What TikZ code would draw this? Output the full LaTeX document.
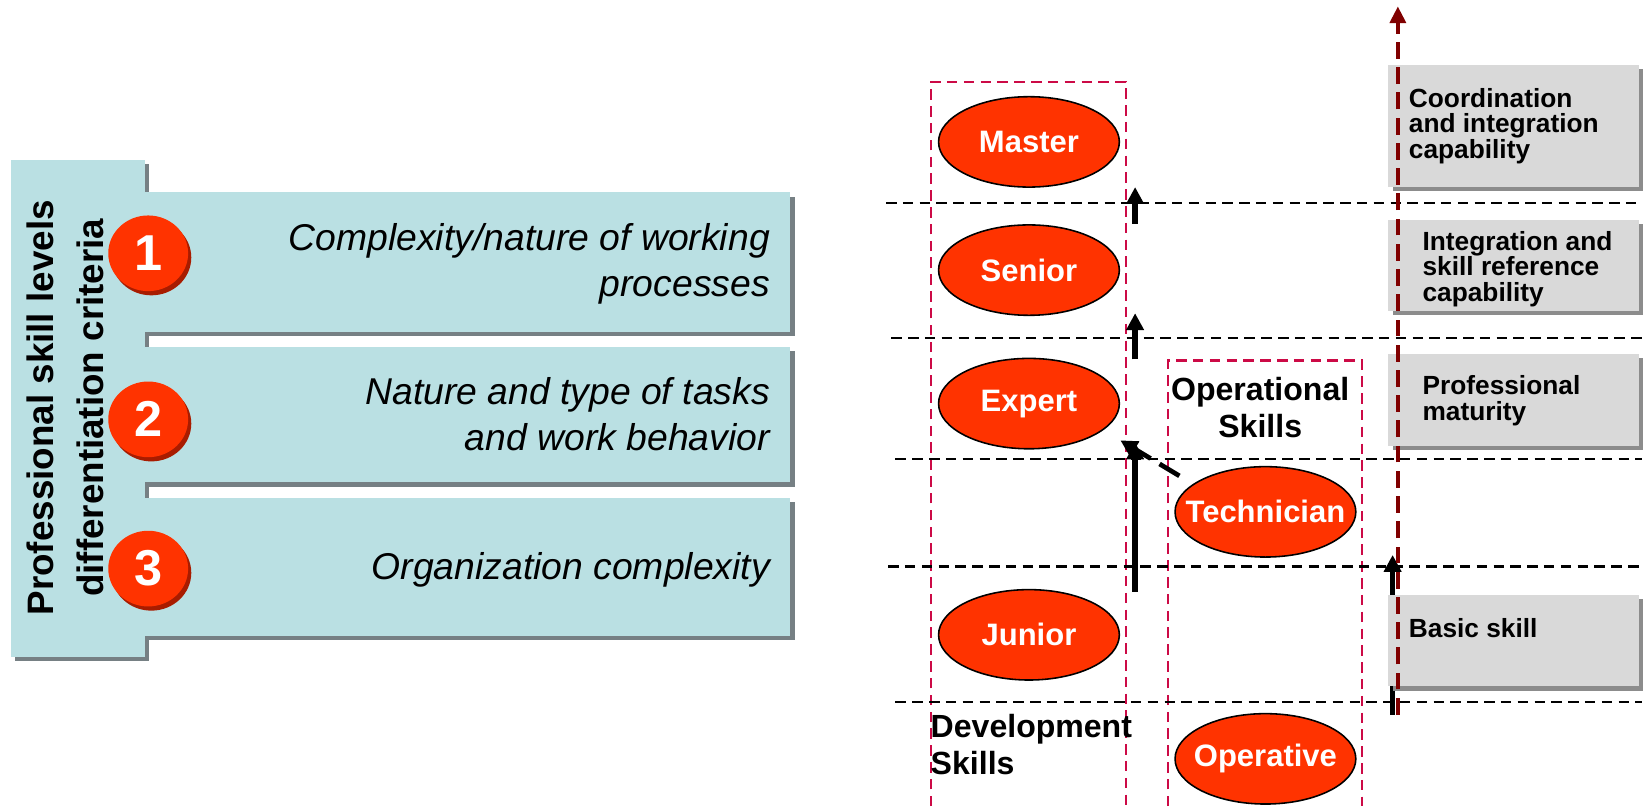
\documentclass[tikz,border=0pt]{standalone}
\usepackage{fontspec}
\setmainfont{Liberation Sans}
\usetikzlibrary{arrows.meta,shapes.geometric}

\definecolor{critblue}{RGB}{186,224,227}
\definecolor{critshade}{RGB}{118,128,132}
\definecolor{levelred}{RGB}{255,51,0}
\definecolor{leveldark}{RGB}{168,28,0}
\definecolor{boxpink}{RGB}{204,10,70}
\definecolor{axisred}{RGB}{128,0,0}
\definecolor{capgray}{RGB}{217,217,217}
\definecolor{capshade}{RGB}{140,140,140}

\begin{document}
\begin{tikzpicture}[x=1pt,y=-1pt,
    level/.style={ellipse,draw=black,line width=1.5pt,fill=levelred,minimum width=172pt,minimum height=86pt,inner xsep=-20pt,inner ysep=0pt,text=white,font=\fontsize{29.5}{34}\selectfont\bfseries},
    crittext/.style={anchor=east,align=right,font=\fontsize{35.5}{44}\selectfont\itshape},
    skilltext/.style={font=\fontsize{30.5}{35}\selectfont\bfseries},
    captext/.style={anchor=west,align=left,font=\fontsize{25}{24.5}\selectfont\bfseries},
    bandline/.style={line width=2pt,dash pattern=on 10pt off 6pt},
    pinkline/.style={draw=boxpink,line width=2pt,dash pattern=on 10pt off 6pt},
    uparrow/.style={line width=5pt,-{Triangle[length=16pt,width=16pt]}}]

\useasboundingbox (0,0) rectangle (1568,767);

% criteria column
\fill[critshade] (14,156) rectangle (142,629);
\fill[critblue] (10,152) rectangle (138,625);
\node[rotate=90,align=center,font=\fontsize{35}{48}\selectfont\bfseries] (crittitle) at (62,388) {Professional skill levels\\differentiation criteria};

\foreach \t/\b in {183/316,330/459,474/605}{
    \fill[critshade] (142,\t+4) rectangle (756,\b+4);
    \fill[critblue] (138,\t) rectangle (752,\b);
}

\foreach \n/\y in {1/241,2/399,3/541}{
    \fill[leveldark] (144,\y+4) ellipse [x radius=38, y radius=36];
    \fill[levelred] (141,\y) ellipse [x radius=38, y radius=36];
    \node[text=white,font=\fontsize{48}{48}\selectfont\bfseries] (num\n) at (141,\y) {\n};
}

\node[crittext] (crit1) at (736,251) {Complexity/nature of working\\processes};
\node[crittext] (crit2) at (736,394) {Nature and type of tasks\\and work behavior};
\node[crittext] (crit3) at (736,542) {Organization complexity};

% skill columns and bands
\draw[pinkline] (886,767) -- (886,78) -- (1071,78) -- (1071,767);
\draw[pinkline] (1111,767) -- (1111,343) -- (1296,343) -- (1296,767);

\foreach \y/\a in {193/843,322/848,437/852,539/845,668/852}
    \draw[bandline] (\a,\y) -- (1562,\y);

\node[level] (master) at (979,135) {Master};
\node[level] (senior) at (979,257) {Senior};
\node[level] (expert) at (979,384) {Expert};
\node[level] (junior) at (979,604) {Junior};
\node[level] (technician) at (1204,487) {Technician};
\node[level] (operative) at (1204,722) {Operative};

\node[skilltext,anchor=north west,align=left] (devlab) at (882,676) {Development\\Skills};
\node[skilltext,align=center] (oplab) at (1199,388) {Operational\\Skills};

% steps between levels
\coordinate (step1a) at (1080,213);
\coordinate (step1b) at (1080,178);
\coordinate (step2a) at (1080,342);
\coordinate (step2b) at (1080,298);
\coordinate (step3a) at (1080,563);
\coordinate (step3b) at (1080,421);
\coordinate (crossb) at (1066,419);
\coordinate (basica) at (1325,680);
\coordinate (basicb) at (1325,528);
\draw[uparrow] (step1a) -- (step1b);
\draw[uparrow] (step2a) -- (step2b);
\draw[uparrow] (step3a) -- (step3b);
\draw[line width=4.5pt,dash pattern=on 22pt off 10pt,shorten <=15pt,-{Triangle[length=16pt,width=16pt]}] (technician.159) -- (crossb);
\draw[uparrow] (basica) -- (basicb);

% capability boxes
\foreach \t/\b in {62/178,209/296,337/424,566/653}{
    \fill[capshade] (1325,\t+4) rectangle (1563,\b+4);
    \fill[capgray] (1321,\t) rectangle (1559,\b);
}
\node[captext] (capa) at (1337,120) {Coordination\\and integration\\capability};
\node[captext] (capb) at (1350,256) {Integration and\\skill reference\\capability};
\node[captext] (capc) at (1350,381) {Professional\\maturity};
\node[captext] (capd) at (1337,598) {Basic skill};

\coordinate (axisbot) at (1330,680);
\coordinate (axistop) at (1330,6);
\draw[draw=axisred,line width=4pt,dash pattern=on 16pt off 8pt,-{Triangle[length=16pt,width=15pt,fill=axisred]}] (axisbot) -- (axistop);

\end{tikzpicture}
\end{document}
